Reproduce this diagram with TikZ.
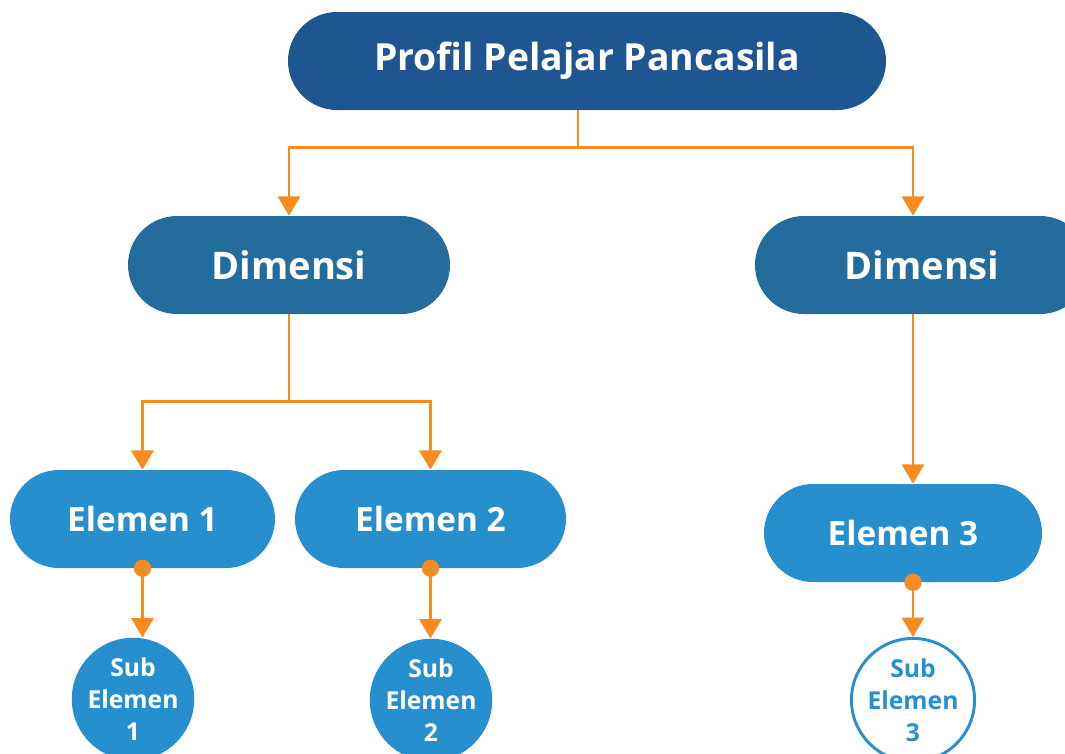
\documentclass[tikz,border=0pt]{standalone}
\usepackage{fontspec}
\setmainfont{Open Sans}
\usetikzlibrary{arrows.meta,shapes.misc}
\definecolor{topblue}{RGB}{31,85,145}
\definecolor{dimblue}{RGB}{35,108,156}
\definecolor{elblue}{RGB}{40,143,207}
\definecolor{conorange}{RGB}{246,139,31}
\begin{document}
\begin{tikzpicture}[x=0.75pt,y=-0.75pt,
  pill/.style={rounded rectangle, rounded rectangle arc length=180, inner sep=0pt, minimum height=73.5pt, text=white, font=\bfseries},
  topbox/.style={pill, fill=topblue, minimum width=448.5pt, font=\bfseries\fontsize{28}{32}\selectfont},
  dimbox/.style={pill, fill=dimblue, minimum width=241.5pt, font=\bfseries\fontsize{28.5}{34}\selectfont},
  elbox/.style={pill, fill=elblue, font=\bfseries\fontsize{25}{30}\selectfont},
  subfill/.style={circle, fill=elblue, minimum size=91.5pt, inner sep=0pt, text=white, align=center, font=\bfseries\fontsize{18.5}{24}\selectfont},
  subline/.style={circle, fill=white, draw=elblue, line width=2.2pt, minimum size=89pt, inner sep=0pt, text=elblue, align=center, font=\bfseries\fontsize{18.5}{24}\selectfont},
  conn/.style={draw=conorange, line width=2.2pt},
  arr/.style={conn, -{Triangle[width=16.5pt,length=14.5pt]}},
  dot/.style={circle, fill=conorange, minimum size=13pt, inner sep=0pt}
]
\useasboundingbox (0,0) rectangle (1065,754);
\clip (0,0) rectangle (1065,754);

\node[topbox] (top) at (587,61) {Profil Pelajar Pancasila};
\node[dimbox] (dimL) at (289,265) {Dimensi};
\node[dimbox, minimum width=250.5pt] (dimR) at (922,265) {Dimensi};
\node[elbox, minimum width=198.75pt] (el1) at (142.5,519) {Elemen 1};
\node[elbox, minimum width=203.25pt] (el2) at (430.5,519) {Elemen 2};
\node[elbox, minimum width=208.5pt] (el3) at (903,533) {Elemen 3};
\node[subfill] (sub1) at (133,699) {Sub\\Elemen\\1};
\node[subfill] (sub2) at (431,700) {Sub\\Elemen\\2};
\node[subline] (sub3) at (913,700) {Sub\\Elemen\\3};

% top connectors
\draw[conn] ([xshift=-6.75pt]top.south) -- ++(0,37) coordinate (j1);
\draw[arr] (j1) -| (dimL.north);
\draw[arr] (j1) -| ([xshift=-6.75pt]dimR.north);

% dimensi left
\draw[conn] (dimL.south) -- ++(0,87) coordinate (j2);
\draw[arr] (j2) -| (el1.north);
\draw[arr] (j2) -| (el2.north);

% dimensi right
\draw[arr] ([xshift=-6.75pt]dimR.south) -- ([xshift=-6.75pt]dimR.south |- el3.north);

% elemen to sub
\coordinate (d1) at (el1.south);
\coordinate (d2) at (el2.south);
\coordinate (d3) at ([xshift=7.5pt]el3.south);
\draw[arr] (d1) -- (d1 |- sub1.north);
\draw[arr] (d2) -- (d2 |- sub2.north);
\draw[arr] (d3) -- (d3 |- sub3.north);
\node[dot] (p1) at (d1) {};
\node[dot] (p2) at (d2) {};
\node[dot] (p3) at (d3) {};
\end{tikzpicture}
\end{document}
